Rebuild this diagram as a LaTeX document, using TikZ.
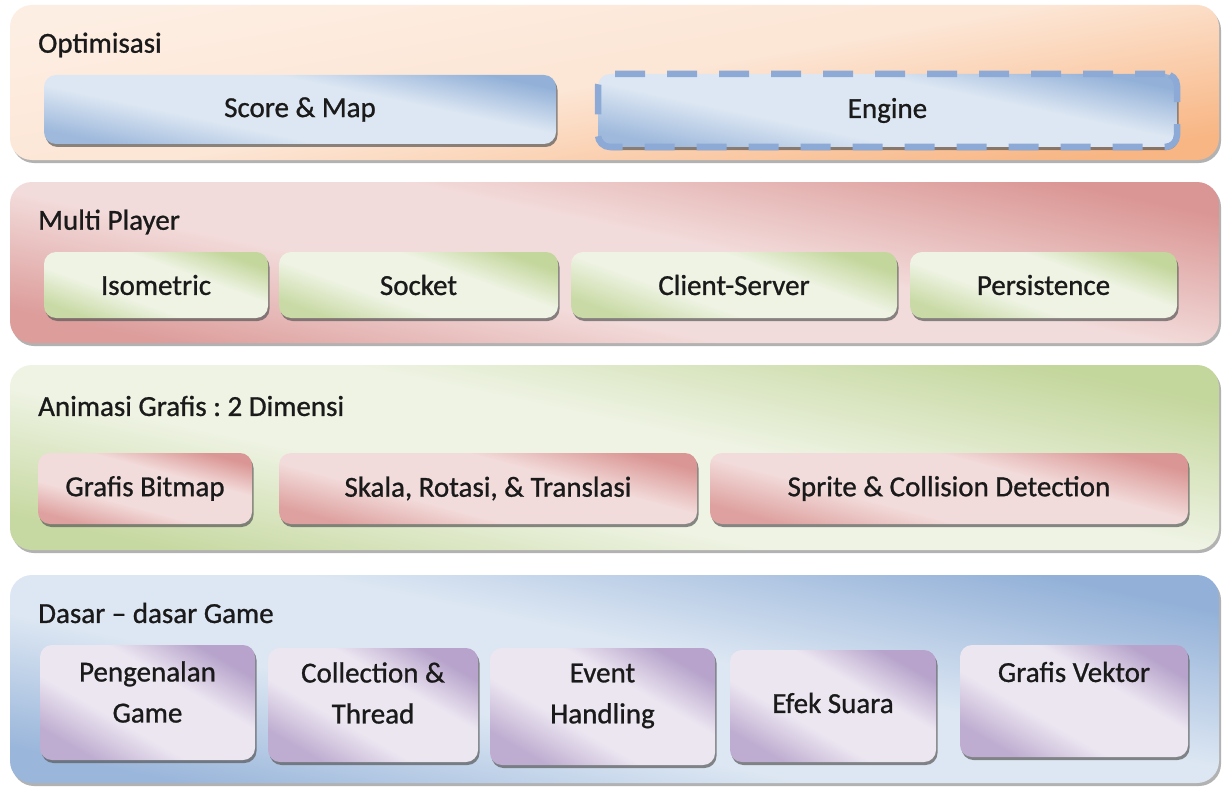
\documentclass[tikz,border=0pt]{standalone}
\usepackage{fontspec}
\setmainfont[FakeBold=0.9]{Carlito}
\usetikzlibrary{shadows}
\definecolor{OrL}{HTML}{FDEEE3}
\definecolor{OrD}{HTML}{F8B684}
\definecolor{PkL}{HTML}{F2DCDB}
\definecolor{PkD}{HTML}{DA9694}
\definecolor{GrL}{HTML}{EEF3E3}
\definecolor{GrD}{HTML}{C3D69B}
\definecolor{BlL}{HTML}{DDE7F3}
\definecolor{BlD}{HTML}{93B1D8}
\definecolor{PuL}{HTML}{ECE6F1}
\definecolor{PuD}{HTML}{B7A3CB}
\definecolor{TxtC}{HTML}{1A1A1A}
\definecolor{DashC}{HTML}{8DAAD6}
\colorlet{glossL}{white}
\colorlet{glossD}{gray}
\pgfdeclareverticalshading[glossL,glossD]{gloss}{100bp}{%
  color(0bp)=(glossD!85!glossL); color(25bp)=(glossD!85!glossL);
  color(40bp)=(glossL); color(60bp)=(glossL);
  color(75bp)=(glossD); color(100bp)=(glossD)}
\pgfdeclareverticalshading[glossL,glossD]{lgloss}{100bp}{%
  color(0bp)=(glossD!90!glossL); color(25bp)=(glossD!90!glossL);
  color(42bp)=(glossL); color(55bp)=(glossL);
  color(75bp)=(glossD); color(100bp)=(glossD)}
\tikzset{
  x=1pt, y=-1pt,
  setgloss/.style 2 args={/utils/exec={\colorlet{glossL}{#1}\colorlet{glossD}{#2}}},
  layerbox/.style={rounded corners=22pt, inner sep=0pt,
    drop shadow={shadow xshift=2pt, shadow yshift=-3pt, fill=black!55, opacity=.55}},
  itembox/.style={rounded corners=12pt, inner sep=0pt,
    drop shadow={shadow xshift=1.5pt, shadow yshift=-3pt, fill=black!65, opacity=.7}},
  shadeOr/.style={top color=OrL, bottom color=OrD, middle color=OrL!85!OrD, shading angle=10},
  shadePk/.style={setgloss={PkL}{PkD}, shading=lgloss, shading angle=-12},
  shadeGr/.style={setgloss={GrL}{GrD}, shading=lgloss, shading angle=-12},
  shadeBl/.style={setgloss={BlL}{BlD}, shading=lgloss, shading angle=-12},
  glossBl/.style={setgloss={BlL}{BlD}, shading=gloss, shading angle=-12},
  glossGr/.style={setgloss={GrL}{GrD}, shading=gloss, shading angle=-20},
  glossPk/.style={setgloss={PkL}{PkD}, shading=gloss, shading angle=-15},
  glossPu/.style={setgloss={PuL}{PuD}, shading=gloss, shading angle=-30},
  title/.style={anchor=west, inner sep=0pt, text=TxtC, font=\fontsize{29}{36}\selectfont},
  label/.style={inner sep=0pt, text=TxtC, align=center, font=\fontsize{29}{41}\selectfont},
}
\frenchspacing
\begin{document}
\begin{tikzpicture}
\useasboundingbox[fill=white] (0,0) rectangle (1223,789);

% ---- Layer 1: Optimisasi
\node[layerbox, shadeOr, minimum width=1209pt, minimum height=155pt] (L1) at (614.5,82.5) {};
\node[title] (T1) at (38,45) {Optimisasi};
\node[itembox, glossBl, minimum width=512pt, minimum height=69pt] (B11) at (300,109.5) {};
\node[label] (X11) at (B11.center) {Score \& Map};
\node[itembox, glossBl, draw=DashC, line width=6.5pt, dash pattern=on 30pt off 22pt,
      minimum width=579pt, minimum height=73pt] (B12) at (887.5,110.5) {};
\node[label] (X12) at (B12.center) {Engine};

% ---- Layer 2: Multi Player
\node[layerbox, shadePk, minimum width=1209pt, minimum height=161pt] (L2) at (614.5,262.5) {};
\node[title] (T2) at (38,222) {Multi Player};
\node[itembox, glossGr, minimum width=224pt, minimum height=66pt] (B21) at (156,285) {};
\node[label] (X21) at (B21.center) {Isometric};
\node[itembox, glossGr, minimum width=279pt, minimum height=66pt] (B22) at (418.5,285) {};
\node[label] (X22) at (B22.center) {Socket};
\node[itembox, glossGr, minimum width=326pt, minimum height=66pt] (B23) at (734,285) {};
\node[label] (X23) at (B23.center) {Client-Server};
\node[itembox, glossGr, minimum width=267pt, minimum height=66pt] (B24) at (1043.5,285) {};
\node[label] (X24) at (B24.center) {Persistence};

% ---- Layer 3: Animasi Grafis
\node[layerbox, shadeGr, minimum width=1209pt, minimum height=185pt] (L3) at (614.5,457.5) {};
\node[title] (T3) at (38,406) {Animasi Grafis : 2 Dimensi};
\node[itembox, glossPk, minimum width=214pt, minimum height=71pt] (B31) at (145,488.5) {};
\node[label] (X31) at (B31.center) {Grafis Bitmap};
\node[itembox, glossPk, minimum width=418pt, minimum height=71pt] (B32) at (488,488.5) {};
\node[label] (X32) at (B32.center) {Skala, Rotasi, \& Translasi};
\node[itembox, glossPk, minimum width=478pt, minimum height=71pt] (B33) at (949,488.5) {};
\node[label] (X33) at (B33.center) {Sprite \& Collision Detection};

% ---- Layer 4: Dasar-dasar Game
\node[layerbox, shadeBl, minimum width=1209pt, minimum height=208pt] (L4) at (614.5,679) {};
\node[title] (T4) at (38,613) {Dasar – dasar Game};
\node[itembox, glossPu, minimum width=215pt, minimum height=115pt] (B41) at (147.5,702.5) {};
\node[label] (X41) at (147.5,692) {Pengenalan\\Game};
\node[itembox, glossPu, minimum width=210pt, minimum height=114pt] (B42) at (373,705) {};
\node[label] (X42) at (373,693) {Collection \&\\Thread};
\node[itembox, glossPu, minimum width=225pt, minimum height=117pt] (B43) at (602.5,706.5) {};
\node[label] (X43) at (602.5,696) {Event\\Handling};
\node[itembox, glossPu, minimum width=206pt, minimum height=112pt] (B44) at (833,706) {};
\node[label] (X44) at (833,703) {Efek Suara};
\node[itembox, glossPu, minimum width=228pt, minimum height=112pt] (B45) at (1074,701) {};
\node[label] (X45) at (1074,672) {Grafis Vektor};
\end{tikzpicture}
\end{document}
